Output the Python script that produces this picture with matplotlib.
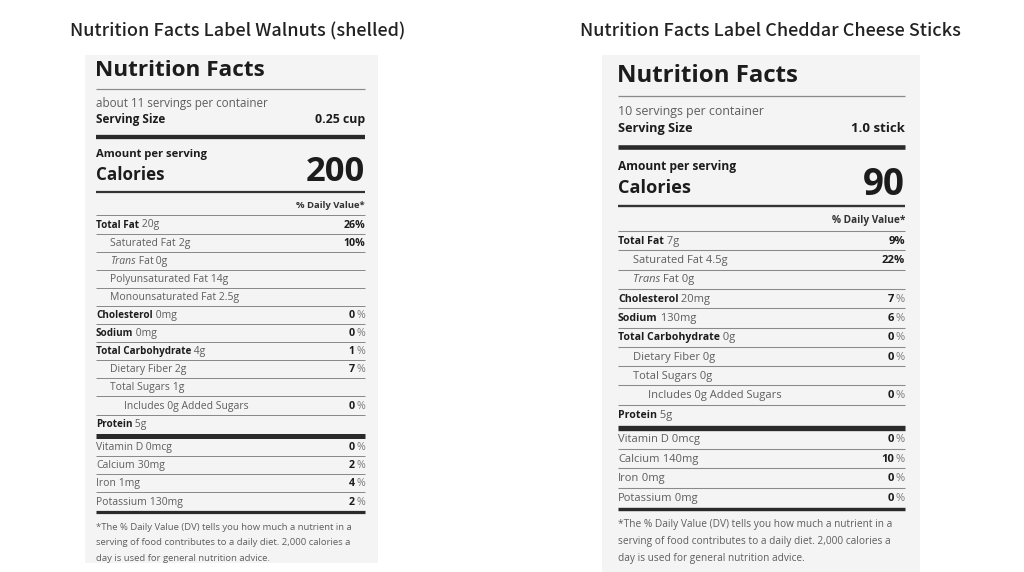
import matplotlib
matplotlib.use("Agg")
import matplotlib.pyplot as plt
from matplotlib.patches import Rectangle

# ---------------- data ----------------
titles = ["Nutrition Facts Label Walnuts (shelled)",
          "Nutrition Facts Label Cheddar Cheese Sticks"]

walnut_servings = "about 11 servings per container"
walnut_serving_size = "0.25 cup"
walnut_calories = "200"
walnut_names = ["Total Fat", "Saturated Fat", "Trans Fat", "Polyunsaturated Fat",
                "Monounsaturated Fat", "Cholesterol", "Sodium", "Total Carbohydrate",
                "Dietary Fiber", "Total Sugars", "Includes 0g Added Sugars", "Protein"]
walnut_amounts = ["20g", "2g", "0g", "14g", "2.5g", "0mg", "0mg", "4g", "2g", "1g", "", "5g"]
walnut_dv = ["26%", "10%", "", "", "", "0 %", "0 %", "1 %", "7 %", "", "0 %", ""]
walnut_indent = [0, 1, 1, 1, 1, 0, 0, 0, 1, 1, 2, 0]
walnut_vit_names = ["Vitamin D", "Calcium", "Iron", "Potassium"]
walnut_vit_amounts = ["0mcg", "30mg", "1mg", "130mg"]
walnut_vit_dv = ["0 %", "2 %", "4 %", "2 %"]

cheese_servings = "10 servings per container"
cheese_serving_size = "1.0 stick"
cheese_calories = "90"
cheese_names = ["Total Fat", "Saturated Fat", "Trans Fat", "Cholesterol", "Sodium",
                "Total Carbohydrate", "Dietary Fiber", "Total Sugars",
                "Includes 0g Added Sugars", "Protein"]
cheese_amounts = ["7g", "4.5g", "0g", "20mg", "130mg", "0g", "0g", "0g", "", "5g"]
cheese_dv = ["9%", "22%", "", "7 %", "6 %", "0 %", "0 %", "", "0 %", ""]
cheese_indent = [0, 1, 1, 0, 0, 0, 1, 1, 2, 0]
cheese_vit_names = ["Vitamin D", "Calcium", "Iron", "Potassium"]
cheese_vit_amounts = ["0mcg", "140mg", "0mg", "0mg"]
cheese_vit_dv = ["0 %", "10 %", "0 %", "0 %"]

footnote = ["*The % Daily Value (DV) tells you how much a nutrient in a",
            "serving of food contributes to a daily diet. 2,000 calories a",
            "day is used for general nutrition advice."]

# ---------------- style ----------------
W, H = 1024, 572
FONT = "Open Sans"
BG = "#f4f4f4"
DARK = "#1c1c1c"
GRAY = "#5e5e5e"
LINE = "#8a8a8a"
ROW_N, ROW_B, DV_S = 10.4, 9.9, 10.6
HEAD_W = "bold"

fig = plt.figure(figsize=(W / 100, H / 100), dpi=100)
ax = fig.add_axes([0, 0, 1, 1])
ax.set_xlim(0, W)
ax.set_ylim(H, 0)
ax.axis("off")
renderer = fig.canvas.get_renderer()


def draw_label(ox, oy, s, box, servings, serving_size, calories,
               names, amounts, dvs, indents, vnames, vamounts, vdvs):
    R = 269.0
    X = lambda v: ox + s * v
    Y = lambda v: oy + s * v
    fs = lambda p: p * s * 0.72

    ax.add_patch(Rectangle((box[0], box[1]), box[2] - box[0], box[3] - box[1],
                           facecolor=BG, edgecolor="none", zorder=0))

    def hline(yr, wpx, color):
        ax.plot([X(0), X(R)], [Y(yr), Y(yr)], color=color,
                lw=wpx * s * 0.72, solid_capstyle="butt", zorder=1)

    def txt(xr, yr, t, size, weight="normal", color=GRAY, ha="left", style="normal"):
        return ax.text(X(xr), Y(yr), t, fontsize=fs(size), fontweight=weight,
                       color=color, ha=ha, va="center", fontstyle=style,
                       family=FONT, zorder=2)

    def width(tobj):
        return tobj.get_window_extent(renderer=renderer).width

    def row(xr, yr, name, amount, bold):
        x = X(xr)
        parts = []
        if name.startswith("Trans "):
            parts.append(("Trans", "normal", GRAY, "italic", ROW_N))
            parts.append((" " + name[6:], "normal", GRAY, "normal", ROW_N))
        else:
            parts.append((name, "bold" if bold else "normal",
                          DARK if bold else GRAY, "normal", ROW_B if bold else ROW_N))
        if amount:
            parts.append((" " + amount, "normal", GRAY, "normal", ROW_N))
        for t, w, c, st, sz in parts:
            o = ax.text(x, Y(yr), t, fontsize=fs(sz), fontweight=w, color=c,
                        ha="left", va="center", fontstyle=st, family=FONT, zorder=2)
            x += width(o)

    def dv(yr, v):
        if not v:
            return
        if " %" in v:
            num = v.split(" ")[0]
            p = ax.text(X(R), Y(yr), "%", fontsize=fs(DV_S), color="#7a7a7a",
                        ha="right", va="center", family=FONT, zorder=2)
            ax.text(X(R) - width(p) - 1.5 * s, Y(yr), num, fontsize=fs(DV_S),
                    fontweight="bold", color=DARK, ha="right", va="center",
                    family=FONT, zorder=2)
        else:
            txt(R, yr, v, DV_S, weight="bold", color=DARK, ha="right")

    # header
    txt(-1, 15, "Nutrition Facts", 22.5, weight=HEAD_W, color=DARK)
    hline(34, 1.2, LINE)
    txt(0, 48, servings, 11.6)
    txt(0, 64, "Serving Size", 11.8, weight=HEAD_W, color=DARK)
    txt(R, 64, serving_size, 12.4, weight=HEAD_W, color=DARK, ha="right")
    hline(82, 4.3, "#2a2a2a")
    txt(0, 100, "Amount per serving", 11.3, weight=HEAD_W, color=DARK)
    txt(0, 120, "Calories", 17, weight=HEAD_W, color=DARK)
    txt(R, 117, calories, 34.5, weight=HEAD_W, color=DARK, ha="right")
    hline(137, 2.2, "#333333")
    txt(R, 151, "% Daily Value*", 9.5, weight=HEAD_W, color="#333333", ha="right")
    hline(160, 1.0, LINE)

    indent_x = [0, 14, 28]
    pitch = 18.1
    y = 170.0
    n = len(names)
    for i in range(n):
        row(indent_x[indents[i]], y, names[i], amounts[i], indents[i] == 0)
        dv(y, dvs[i])
        if i < n - 1:
            hline(y + 8.5, 1.0, LINE)
            y += pitch
    hline(y + 12, 5.0, "#2a2a2a")
    y += 23
    vpitch = 18.3
    m = len(vnames)
    for i in range(m):
        row(0, y, vnames[i], vamounts[i], False)
        dv(y, vdvs[i])
        if i < m - 1:
            hline(y + 8.7, 1.0, LINE)
            y += vpitch
    hline(y + 10, 3.2, "#2a2a2a")
    fy = y + 25
    for line in footnote:
        txt(0, fy, line, 9.5)
        fy += 15.6


# top titles
ax.text(238, 31, titles[0], fontsize=13, family=["Noto Sans CJK JP", "DejaVu Sans"],
        fontweight="medium", color="#222222", ha="center", va="center")
ax.text(770, 31, titles[1], fontsize=13, family=["Noto Sans CJK JP", "DejaVu Sans"],
        fontweight="medium", color="#222222", ha="center", va="center")

draw_label(96, 55, 1.0, (85, 55, 378, 563), walnut_servings, walnut_serving_size,
           walnut_calories, walnut_names, walnut_amounts, walnut_dv, walnut_indent,
           walnut_vit_names, walnut_vit_amounts, walnut_vit_dv)
draw_label(618, 59.8, 1.067, (602, 55, 920, 572), cheese_servings, cheese_serving_size,
           cheese_calories, cheese_names, cheese_amounts, cheese_dv, cheese_indent,
           cheese_vit_names, cheese_vit_amounts, cheese_vit_dv)

fig.savefig("out.png", dpi=100, facecolor="white")
